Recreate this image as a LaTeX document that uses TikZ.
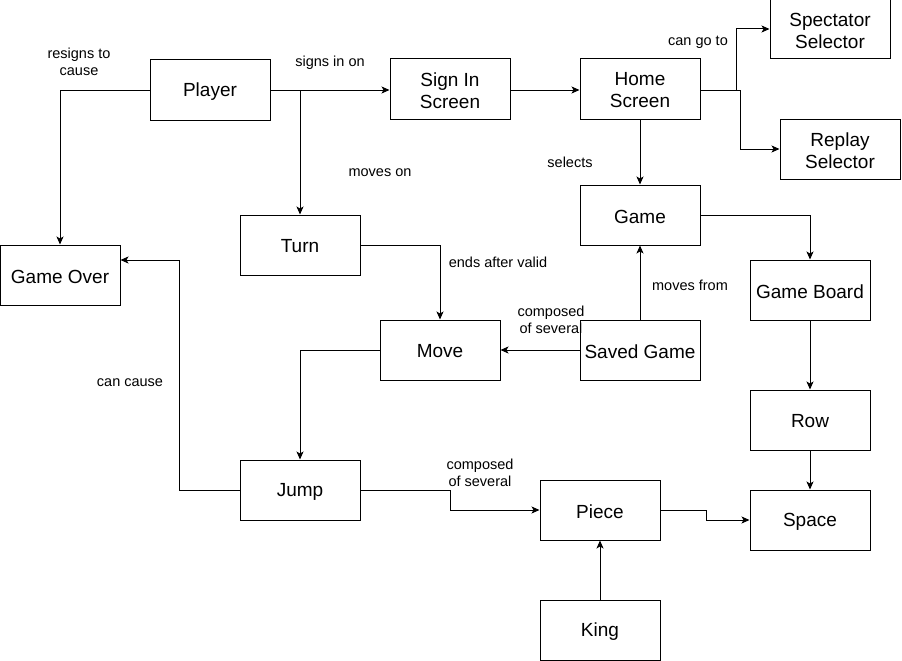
\documentclass[tikz,border=0pt]{standalone}
\usepackage{fontspec}
\setmainfont{Liberation Sans}
\usetikzlibrary{arrows.meta,positioning}
\begin{document}
\begin{tikzpicture}[x=1pt,y=-1pt,
  box/.style={draw,line width=1pt,minimum width=120pt,minimum height=60pt,inner sep=0pt,
    label={[btxt]center:#1}},
  btxt/.style={align=center,inner sep=0pt,yshift=-1.5pt,font=\fontsize{19}{22}\selectfont},
  lbl/.style={align=center,inner sep=0pt,yshift=-1.5pt,font=\fontsize{14.5}{17}\selectfont},
  arr/.style={line width=1pt,-{Stealth[length=8pt,width=7pt,inset=2pt]}}]
\useasboundingbox (0,0) rectangle (902,661);
\node[box={Player}] (player) at (210,90) {};
\node[box={Sign In\\Screen}] (signin) at (450,89) {};
\node[box={Home\\Screen}] (home) at (640,89) {};
\node[box={Spectator\\Selector}] (spectator) at (830,29) {};
\node[box={Replay\\Selector}] (replay) at (840,149) {};
\node[box={Game}] (game) at (640,215) {};
\node[box={Turn}] (turn) at (300,245) {};
\node[box={Game Over}] (gameover) at (60,275) {};
\node[box={Game Board}] (board) at (810,290) {};
\node[box={Move}] (move) at (440,350) {};
\node[box={Saved Game}] (saved) at (640,350) {};
\node[box={Row}] (row) at (810,420) {};
\node[box={Jump}] (jump) at (300,490) {};
\node[box={Piece}] (piece) at (600,510) {};
\node[box={Space}] (space) at (810,520) {};
\node[box={King}] (king) at (600,630) {};

\draw[arr] (player.east) -- (signin.west |- player.east);
\draw[arr] (player.west) -| (gameover.north);
\draw[arr] (player.east -| turn.north) -- (turn.north);
\draw[arr] (signin.east |- player.east) -- (home.west |- player.east);
\draw[arr] (home.east |- player.east) -- ++(36,0) |- (spectator.west);
\draw[arr] (home.east |- player.east) -- ++(40,0) |- (replay.west);
\draw[arr] (home.south) -- (game.north);
\draw[arr] (game.east) -| (board.north);
\draw[arr] (turn.east) -| (move.north);
\draw[arr] (saved.west) -- (move.east);
\draw[arr] (saved.north) -- (game.south);
\draw[arr] (move.west) -| (jump.north);
\draw[arr] (jump.west) -- ++(-60,0) |- ([yshift=15pt]gameover.east);
\draw[arr] (jump.east) -- ++(90,0) |- (piece.west);
\draw[arr] (piece.east) -- ++(46,0) |- (space.west);
\draw[arr] (board.south) -- (row.north);
\draw[arr] (row.south) -- (space.north);
\draw[arr] (king.north) -- (piece.south);

\node[lbl] (l1) at (79,60) {resigns to\\cause};
\node[lbl] (l2) at (330,61) {signs in on};
\node[lbl] (l3) at (698,41) {can go to};
\node[lbl] (l4) at (570,161) {selects};
\node[lbl] (l5) at (380,171) {moves on};
\node[lbl] (l6) at (498,261) {ends after valid};
\node[lbl] (l7) at (551,318) {composed\\of several};
\node[lbl] (l8) at (690,284) {moves from};
\node[lbl] (l9) at (130,381) {can cause};
\node[lbl] (l10) at (480,471) {composed\\of several};
\end{tikzpicture}
\end{document}
